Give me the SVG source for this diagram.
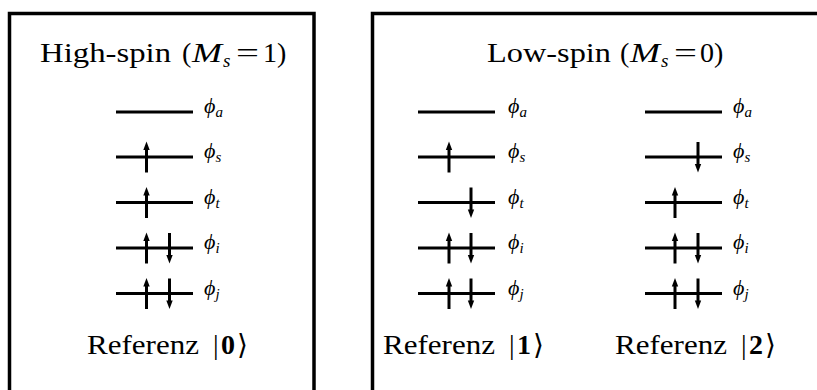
<svg xmlns="http://www.w3.org/2000/svg" xmlns:xlink="http://www.w3.org/1999/xlink" width="817" height="390" viewBox="0 0 817 390">
<style>
.box{fill:none;stroke:#000;stroke-width:3.5}
.lv{stroke:#000;stroke-width:3}
.ar{stroke:#000;stroke-width:3}
.t{font-family:"Liberation Serif","DejaVu Serif",serif;font-size:28px;fill:#000}
.mi{font-style:italic}
.sub{font-size:19px;font-style:italic}
.b{font-weight:bold}
.lab{font-family:"Liberation Serif","DejaVu Serif",serif;font-style:italic;font-size:22px;fill:#000}
.ls{font-size:15px}
</style>
<defs>
<g id="up"><line class="ar" x1="0" y1="-8" x2="0" y2="15.5"/><polygon points="0,-15.5 -3.2,-7 3.2,-7"/></g>
<g id="dn"><line class="ar" x1="0" y1="-15" x2="0" y2="8"/><polygon points="0,15.5 -3.2,7 3.2,7"/></g>
</defs>
<rect width="817" height="390" fill="#fff"/>
<g id="box-high">
<rect class="box" x="9.5" y="13.5" width="304.5" height="400"/>
<text class="t" y="62"><tspan x="40" textLength="131" lengthAdjust="spacingAndGlyphs">High-spin</tspan><tspan x="182">(</tspan><tspan x="192" class="mi" textLength="30" lengthAdjust="spacingAndGlyphs">M</tspan><tspan x="223" dy="5" class="sub">s</tspan><tspan x="236" dy="-5" textLength="23" lengthAdjust="spacingAndGlyphs">=</tspan><tspan x="263">1</tspan><tspan x="277">)</tspan></text>
<text class="t" y="354"><tspan x="87" textLength="112" lengthAdjust="spacingAndGlyphs">Referenz</tspan><tspan x="213">|</tspan><tspan x="221" class="b">0</tspan><tspan x="237">⟩</tspan></text>
</g>
<g id="box-low">
<rect class="box" x="372.5" y="13.5" width="500" height="400"/>
<text class="t" y="62"><tspan x="487" textLength="124" lengthAdjust="spacingAndGlyphs">Low-spin</tspan><tspan x="620">(</tspan><tspan x="630" class="mi" textLength="30" lengthAdjust="spacingAndGlyphs">M</tspan><tspan x="661" dy="5" class="sub">s</tspan><tspan x="674" dy="-5" textLength="23" lengthAdjust="spacingAndGlyphs">=</tspan><tspan x="700">0</tspan><tspan x="714">)</tspan></text>
<text class="t" y="354"><tspan x="383" textLength="112" lengthAdjust="spacingAndGlyphs">Referenz</tspan><tspan x="509">|</tspan><tspan x="517" class="b">1</tspan><tspan x="533">⟩</tspan></text>
<text class="t" y="354"><tspan x="615" textLength="112" lengthAdjust="spacingAndGlyphs">Referenz</tspan><tspan x="741">|</tspan><tspan x="749" class="b">2</tspan><tspan x="765">⟩</tspan></text>
</g>
<g id="col-ref0">
<g id="r0-a"><line class="lv" x1="116" y1="112" x2="193" y2="112"/><text class="lab" x="204" y="113">ϕ<tspan class="ls" dy="4">a</tspan></text></g>
<g id="r0-s"><line class="lv" x1="116" y1="157" x2="193" y2="157"/><use xlink:href="#up" x="146.5" y="157"/><text class="lab" x="204" y="158">ϕ<tspan class="ls" dy="4">s</tspan></text></g>
<g id="r0-t"><line class="lv" x1="116" y1="202.5" x2="193" y2="202.5"/><use xlink:href="#up" x="146.5" y="202.5"/><text class="lab" x="204" y="203.5">ϕ<tspan class="ls" dy="4">t</tspan></text></g>
<g id="r0-i"><line class="lv" x1="116" y1="248" x2="193" y2="248"/><use xlink:href="#up" x="146.5" y="248"/><use xlink:href="#dn" x="169.5" y="248"/><text class="lab" x="204" y="249">ϕ<tspan class="ls" dy="4">i</tspan></text></g>
<g id="r0-j"><line class="lv" x1="116" y1="293.5" x2="193" y2="293.5"/><use xlink:href="#up" x="146.5" y="293.5"/><use xlink:href="#dn" x="169.5" y="293.5"/><text class="lab" x="204" y="294.5">ϕ<tspan class="ls" dy="4">j</tspan></text></g>
</g>
<g id="col-ref1">
<g id="r1-a"><line class="lv" x1="418" y1="112" x2="495" y2="112"/><text class="lab" x="508" y="113">ϕ<tspan class="ls" dy="4">a</tspan></text></g>
<g id="r1-s"><line class="lv" x1="418" y1="157" x2="495" y2="157"/><use xlink:href="#up" x="449" y="157"/><text class="lab" x="508" y="158">ϕ<tspan class="ls" dy="4">s</tspan></text></g>
<g id="r1-t"><line class="lv" x1="418" y1="202.5" x2="495" y2="202.5"/><use xlink:href="#dn" x="471" y="202.5"/><text class="lab" x="508" y="203.5">ϕ<tspan class="ls" dy="4">t</tspan></text></g>
<g id="r1-i"><line class="lv" x1="418" y1="248" x2="495" y2="248"/><use xlink:href="#up" x="449" y="248"/><use xlink:href="#dn" x="471" y="248"/><text class="lab" x="508" y="249">ϕ<tspan class="ls" dy="4">i</tspan></text></g>
<g id="r1-j"><line class="lv" x1="418" y1="293.5" x2="495" y2="293.5"/><use xlink:href="#up" x="449" y="293.5"/><use xlink:href="#dn" x="471" y="293.5"/><text class="lab" x="508" y="294.5">ϕ<tspan class="ls" dy="4">j</tspan></text></g>
</g>
<g id="col-ref2">
<g id="r2-a"><line class="lv" x1="645" y1="112" x2="722" y2="112"/><text class="lab" x="733" y="113">ϕ<tspan class="ls" dy="4">a</tspan></text></g>
<g id="r2-s"><line class="lv" x1="645" y1="157" x2="722" y2="157"/><use xlink:href="#dn" x="698" y="157"/><text class="lab" x="733" y="158">ϕ<tspan class="ls" dy="4">s</tspan></text></g>
<g id="r2-t"><line class="lv" x1="645" y1="202.5" x2="722" y2="202.5"/><use xlink:href="#up" x="675" y="202.5"/><text class="lab" x="733" y="203.5">ϕ<tspan class="ls" dy="4">t</tspan></text></g>
<g id="r2-i"><line class="lv" x1="645" y1="248" x2="722" y2="248"/><use xlink:href="#up" x="675" y="248"/><use xlink:href="#dn" x="698" y="248"/><text class="lab" x="733" y="249">ϕ<tspan class="ls" dy="4">i</tspan></text></g>
<g id="r2-j"><line class="lv" x1="645" y1="293.5" x2="722" y2="293.5"/><use xlink:href="#up" x="675" y="293.5"/><use xlink:href="#dn" x="698" y="293.5"/><text class="lab" x="733" y="294.5">ϕ<tspan class="ls" dy="4">j</tspan></text></g>
</g>
</svg>
